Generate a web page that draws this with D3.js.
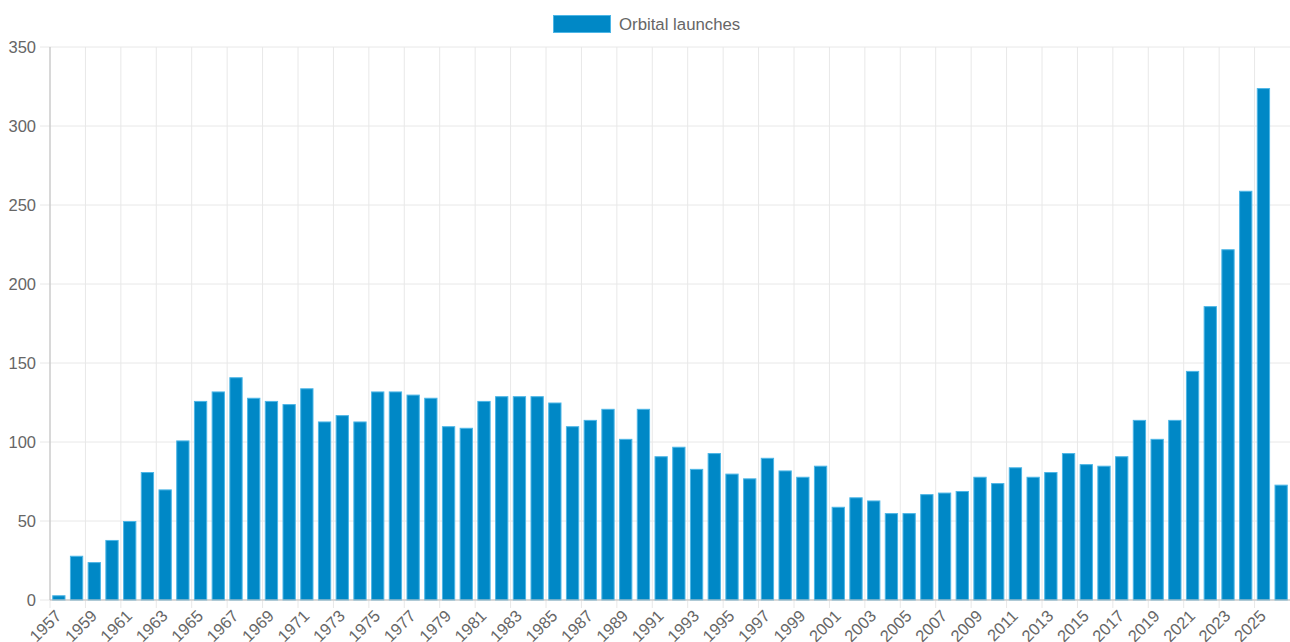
<!DOCTYPE html>
<html>
<head>
<meta charset="utf-8">
<script src="https://cdn.jsdelivr.net/npm/d3@7"></script>
<style>
  body { margin: 0; background: #fff; }
  svg { display: block; font-family: "Liberation Sans", Arial, sans-serif; }
</style>
</head>
<body>
<div id="chart"></div>
<script>
// years shown on the x axis
var years = d3.range(1957, 2027).map(String);

// orbital launches per year
var launches = [
    3, 28, 24, 38, 50, 81, 70, 101, 126, 132,
    141, 128, 126, 124, 134, 113, 117, 113, 132, 132,
    130, 128, 110, 109, 126, 129, 129, 129, 125, 110,
    114, 121, 102, 121, 91, 97, 83, 93, 80, 77,
    90, 82, 78, 85, 59, 65, 63, 55, 55, 67,
    68, 69, 78, 74, 84, 78, 81, 93, 86, 85,
    91, 114, 102, 114, 145, 186, 222, 259, 324, 73
];

var yTicks = [0, 50, 100, 150, 200, 250, 300, 350];
var seriesName = "Orbital launches";

var data = years.map(function(y, i) { return { year: y, value: launches[i] }; });

var W = 1290, H = 642;
var margin = { top: 47, right: 0, bottom: 42, left: 50 };
var width = W - margin.left - margin.right,
    height = H - margin.top - margin.bottom;

var fill = "#0088c6", edge = "#4db6e6", grid = "#e8e8e8", axisCol = "#bdbdbd", txt = "#666";

var svg = d3.select("#chart").append("svg")
    .attr("width", W)
    .attr("height", H);

var g = svg.append("g")
    .attr("transform", "translate(" + margin.left + "," + margin.top + ")");

var x = d3.scaleBand()
    .domain(years)
    .range([0, width])
    .paddingInner(0.25)
    .paddingOuter(0.125);

var y = d3.scaleLinear()
    .domain([0, 350])
    .range([height, 0]);

// left edge of a category (where chart grid lines sit)
function edgeX(d) { return x(d) - x.step() * x.paddingInner() / 2; }

var shown = years.filter(function(d, i) { return i % 2 === 0; });

// horizontal grid + left tick marks
g.append("g").selectAll("line")
    .data(yTicks)
    .enter().append("line")
    .attr("x1", -10)
    .attr("x2", width)
    .attr("y1", function(d) { return y(d); })
    .attr("y2", function(d) { return y(d); })
    .attr("stroke", grid)
    .attr("stroke-width", 1);

// vertical grid + bottom tick marks
g.append("g").selectAll("line")
    .data(shown)
    .enter().append("line")
    .attr("x1", function(d) { return edgeX(d); })
    .attr("x2", function(d) { return edgeX(d); })
    .attr("y1", 0)
    .attr("y2", height + 8)
    .attr("stroke", grid)
    .attr("stroke-width", 1);

// bars
g.append("g").selectAll("rect")
    .data(data)
    .enter().append("rect")
    .attr("x", function(d) { return x(d.year) + 0.5; })
    .attr("width", x.bandwidth() - 1)
    .attr("y", function(d) { return y(d.value) + 0.5; })
    .attr("height", function(d) { return Math.max(0, height - y(d.value) - 0.5); })
    .attr("fill", fill)
    .attr("stroke", edge)
    .attr("stroke-width", 1);

// axis lines
g.append("line")
    .attr("x1", 0).attr("x2", 0)
    .attr("y1", 0).attr("y2", height)
    .attr("stroke", axisCol);
g.append("line")
    .attr("x1", 0).attr("x2", width)
    .attr("y1", height).attr("y2", height)
    .attr("stroke", axisCol);

// y labels
g.append("g").selectAll("text")
    .data(yTicks)
    .enter().append("text")
    .attr("x", -14)
    .attr("y", function(d) { return y(d); })
    .attr("dy", "0.36em")
    .attr("text-anchor", "end")
    .attr("fill", txt)
    .style("font-size", "16.5px")
    .text(function(d) { return d; });

// x labels, rotated
g.append("g").selectAll("text")
    .data(shown)
    .enter().append("text")
    .attr("transform", function(d) {
        return "translate(" + (x(d) + x.bandwidth() / 2 - 0.5) + "," + (height + 13) + ") rotate(-45)";
    })
    .attr("dy", "0.35em")
    .attr("text-anchor", "end")
    .attr("fill", txt)
    .style("font-size", "16.5px")
    .text(function(d) { return d; });

// legend
var legend = svg.append("g");
legend.append("rect")
    .attr("x", 553.5).attr("y", 15.5)
    .attr("width", 57).attr("height", 17)
    .attr("fill", fill)
    .attr("stroke", edge);
legend.append("text")
    .attr("x", 619)
    .attr("y", 24)
    .attr("dy", "0.36em")
    .attr("fill", txt)
    .style("font-size", "16.8px")
    .text(seriesName);
</script>
</body>
</html>
